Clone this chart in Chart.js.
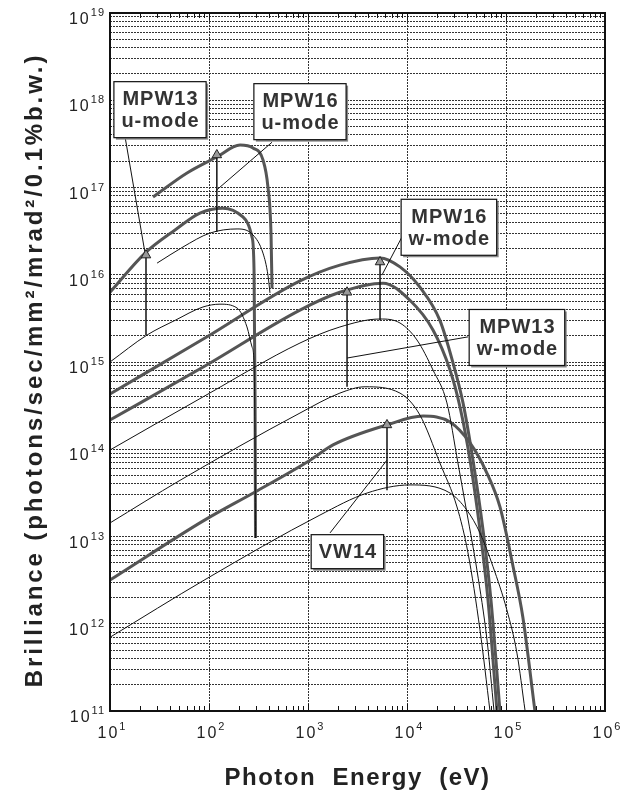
<!DOCTYPE html>
<html>
<head>
<meta charset="utf-8">
<script src="https://cdn.jsdelivr.net/npm/chart.js@4.4.1/dist/chart.umd.min.js"></script>
<style>
  html, body { margin: 0; padding: 0; background: #fff; }
  #wrap { width: 633px; height: 796px; }
</style>
</head>
<body>
<div id="wrap"><canvas id="chart" width="633" height="796"></canvas></div>
<script>
// photon energy (eV) / brilliance pairs

// MPW13 u-mode
const mpw13uThinE = [10, 23.7, 45.4, 86.9, 129, 192, 242, 272, 285, 292, 295];
const mpw13uThinB = [1.0e15, 2.04e15, 3.0e15, 4.27e15, 4.6e15, 4.16e15, 2.52e15, 1.49e15, 9.7e14, 9.8e13, 9.6e12];
const mpw13uThickE = [10, 22.6, 45.4, 81, 138, 220, 272, 285, 292, 295];
const mpw13uThickB = [6.3e15, 1.77e16, 3.26e16, 5.1e16, 5.8e16, 4.6e16, 2.7e16, 1.13e16, 3.7e14, 9.6e12];

// MPW16 u-mode
const mpw16uThinE = [29.9, 54.6, 102, 192, 278, 351, 394, 413];
const mpw16uThinB = [1.36e16, 2.08e16, 3.0e16, 3.35e16, 2.86e16, 1.77e16, 9.9e15, 6.2e15];
const mpw16uThickE = [27.2, 60, 120, 206, 278, 351, 394, 423, 433];
const mpw16uThickB = [7.8e16, 1.47e17, 2.24e17, 3.07e17, 2.84e17, 2.07e17, 1.01e17, 3.0e16, 7.0e15];

// MPW16 w-mode
const mpw16wThinE = [10, 91, 830, 2100, 5340, 8490, 12600, 18300, 25300, 32700, 40300, 50900, 64300, 75700];
const mpw16wThinB = [9.8e13, 4.1e14, 1.65e15, 2.52e15, 3.11e15, 2.8e15, 1.79e15, 8.1e14, 3.4e14, 6.95e13, 1.86e13, 4.1e12, 6.5e11, 1e11];
const mpw16wThickE = [10, 91, 830, 2100, 5340, 8490, 13500, 21500, 29200, 36800, 46400, 58600, 70500, 86900];
const mpw16wThickB = [4.3e14, 1.88e15, 8.5e15, 1.29e16, 1.56e16, 1.23e16, 7.2e15, 3.0e15, 9.7e14, 3.4e14, 7.5e13, 1.19e13, 1.87e12, 1e11];

// MPW13 w-mode
const mpw13wThinE = [10, 50.9, 830, 2100, 3770, 8490, 13500, 21500, 32000, 41300, 54600, 68900];
const mpw13wThinB = [1.43e13, 4.4e13, 2.6e14, 4.4e14, 5.2e14, 4.4e14, 2.47e14, 6.95e13, 2.18e13, 6.5e12, 8.5e11, 1e11];
const mpw13wThickE = [10, 91, 830, 2100, 5730, 10700, 18300, 27200, 34300, 43300, 54600, 65800, 81100];
const mpw13wThickB = [2.16e14, 9.0e14, 3.94e15, 6.3e15, 8.0e15, 5.1e15, 2.33e15, 8.1e14, 3.05e14, 7.5e13, 1.19e13, 1.87e12, 1e11];

// VW14
const vw14ThinE = [10, 91, 1320, 3950, 10700, 27200, 40300, 54600, 74000, 102000, 129000, 156000];
const vw14ThinB = [7.0e11, 3.2e12, 1.76e13, 3.15e13, 3.9e13, 3.15e13, 2.0e13, 1.1e13, 4.5e12, 1.44e12, 4.6e11, 1e11];
const vw14ThickE = [10, 91, 292, 1050, 1790, 6280, 14500, 27200, 43300, 64300, 86900, 118000, 148000, 196000];
const vw14ThickB = [3.17e12, 1.55e13, 3.24e13, 7.5e13, 1.12e14, 1.9e14, 2.4e14, 2.05e14, 1.18e14, 5.3e13, 2.18e13, 4.5e12, 1.19e12, 1e11];

// arrows from the thin curve up to the thick one
const arrowE = [23.1, 120, 5340, 2480, 6280];
const arrowFromB = [2.04e15, 3.1e16, 3.0e15, 5.2e14, 3.4e13];
const arrowToB = [1.68e16, 2.36e17, 1.4e16, 6.3e15, 1.9e14];

// labels and their leader lines
const labelText = [["MPW13", "u-mode"], ["MPW16", "u-mode"], ["MPW16", "w-mode"], ["MPW13", "w-mode"], ["VW14"]];
const labelE = [32, 830, 26500, 129000, 2500];
const labelB = [7.8e17, 7.4e17, 3.5e16, 1.91e15, 6.7e12];
const leaderFromE = [14.2, 433, 9120, 41300, 1670];
const leaderFromB = [3.8e17, 3.3e17, 2.86e16, 1.94e15, 1.1e13];
const leaderToE = [22.6, 120, 5580, 2480, 6280];
const leaderToB = [1.77e16, 9.4e16, 9.9e15, 1.11e15, 7.5e13];

// axes
const xDecades = [1, 2, 3, 4, 5, 6];
const yDecades = [11, 12, 13, 14, 15, 16, 17, 18, 19];
const xTitle = "Photon  Energy  (eV)";
const yTitle = "Brilliance (photons/sec/mm²/mrad²/0.1%b.w.)";

const FONT = '"Liberation Sans", Arial, Helvetica, sans-serif';

const minorTicks = (decades) => {
  const out = [];
  decades.forEach((d, i) => {
    if (i === decades.length - 1) { out.push(Math.pow(10, d)); return; }
    for (let m = 1; m <= 9; m++) out.push(m * Math.pow(10, d));
  });
  return out;
};
const xTickValues = minorTicks(xDecades);
const yTickValues = minorTicks(yDecades);
const isDecade = (v) => Math.abs(Math.log10(v) - Math.round(Math.log10(v))) < 1e-6;

const toPoints = (E, B) => E.map((e, i) => ({ x: e, y: B[i] }));

const curve = (E, B, thick) => ({
  data: toPoints(E, B),
  borderColor: thick ? "#555" : "#111",
  borderWidth: thick ? 3 : 1,
  pointRadius: 0,
  cubicInterpolationMode: "monotone",
  fill: false,
});

const arrows = arrowE.map((e, i) => ({
  data: [{ x: e, y: arrowFromB[i] }, { x: e, y: arrowToB[i] }],
  borderColor: "#111",
  borderWidth: 1.5,
  tension: 0,
  pointRadius: [0, 5.5],
  pointStyle: "triangle",
  pointBackgroundColor: "#999",
  pointBorderColor: "#222",
  pointBorderWidth: 1,
}));

const leaders = leaderFromE.map((e, i) => ({
  data: [{ x: e, y: leaderFromB[i] }, { x: leaderToE[i], y: leaderToB[i] }],
  borderColor: "#111",
  borderWidth: 1,
  tension: 0,
  pointRadius: 0,
}));

const datasets = [
  ...arrows,
  ...leaders,
  curve(mpw13uThinE, mpw13uThinB, false),
  curve(mpw16uThinE, mpw16uThinB, false),
  curve(mpw16wThinE, mpw16wThinB, false),
  curve(mpw13wThinE, mpw13wThinB, false),
  curve(vw14ThinE, vw14ThinB, false),
  curve(mpw13uThickE, mpw13uThickB, true),
  curve(mpw16uThickE, mpw16uThickB, true),
  curve(mpw16wThickE, mpw16wThickB, true),
  curve(mpw13wThickE, mpw13wThickB, true),
  curve(vw14ThickE, vw14ThickB, true),
];

// "10" with a raised exponent
const drawPower = (ctx, exp, px, py, align) => {
  ctx.font = "16px " + FONT;
  ctx.letterSpacing = "2px";
  const bw = ctx.measureText("10").width;
  ctx.font = "11px " + FONT;
  ctx.letterSpacing = "1px";
  const ew = ctx.measureText(String(exp)).width;
  const total = bw + ew;
  const left = align === "right" ? px - total : px - total / 2;
  ctx.textAlign = "left";
  ctx.textBaseline = "alphabetic";
  ctx.font = "16px " + FONT;
  ctx.letterSpacing = "2px";
  ctx.fillText("10", left, py);
  ctx.font = "11px " + FONT;
  ctx.letterSpacing = "1px";
  ctx.fillText(String(exp), left + bw, py - 8);
};

const overlay = {
  id: "overlay",
  afterDatasetsDraw(chart) {
    const { ctx, scales: { x, y } } = chart;
    ctx.save();
    ctx.font = "bold 20px " + FONT;
    ctx.letterSpacing = "1px";
    labelText.forEach((lines, i) => {
      const cx = x.getPixelForValue(labelE[i]);
      const cy = y.getPixelForValue(labelB[i]);
      const w = Math.max(...lines.map((t) => ctx.measureText(t).width)) + 14;
      const h = lines.length * 22 + 12;
      const l = cx - w / 2, t = cy - h / 2;
      ctx.fillStyle = "#888";
      ctx.fillRect(l + 2, t + 2, w, h);
      ctx.fillStyle = "#fff";
      ctx.fillRect(l, t, w, h);
      ctx.strokeStyle = "#111";
      ctx.lineWidth = 1.2;
      ctx.strokeRect(l, t, w, h);
      ctx.fillStyle = "#333";
      ctx.textAlign = "center";
      ctx.textBaseline = "middle";
      lines.forEach((txt, k) => {
        ctx.fillText(txt, cx + 0.5, t + 6 + 11 + k * 22 + 1);
      });
    });
    ctx.restore();
  },
  afterDraw(chart) {
    const { ctx, chartArea: a, scales: { x, y } } = chart;
    ctx.save();
    // small inside ticks on top and bottom edges
    ctx.strokeStyle = "#111";
    ctx.lineWidth = 1;
    xTickValues.forEach((v) => {
      const px = Math.round(x.getPixelForValue(v)) + 0.5;
      const len = isDecade(v) ? 7 : 5;
      ctx.beginPath();
      ctx.moveTo(px, a.bottom);
      ctx.lineTo(px, a.bottom - len);
      ctx.moveTo(px, a.top);
      ctx.lineTo(px, a.top + len);
      ctx.stroke();
    });
    // frame
    ctx.lineWidth = 2;
    ctx.strokeRect(a.left, a.top, a.width, a.height);

    // tick labels
    ctx.fillStyle = "#222";
    xDecades.forEach((d) => {
      drawPower(ctx, d, x.getPixelForValue(Math.pow(10, d)) + 2, a.bottom + 27, "center");
    });
    yDecades.forEach((d) => {
      drawPower(ctx, d, a.left - 5, y.getPixelForValue(Math.pow(10, d)) + 11, "right");
    });

    // axis titles
    ctx.fillStyle = "#222";
    ctx.font = "bold 24px " + FONT;
    ctx.letterSpacing = "1.5px";
    ctx.textAlign = "center";
    ctx.textBaseline = "middle";
    ctx.fillText(xTitle, (a.left + a.right) / 2, 778);

    ctx.translate(35, 370);
    ctx.rotate(-Math.PI / 2);
    ctx.letterSpacing = "2.9px";
    ctx.fillText(yTitle, 0, 0);
    ctx.restore();
  },
};

const gridColor = "#333";

new Chart(document.getElementById("chart"), {
  type: "line",
  data: { datasets },
  plugins: [overlay],
  options: {
    responsive: false,
    animation: false,
    layout: { padding: { left: 110, top: 13, right: 28, bottom: 85 } },
    plugins: {
      legend: { display: false },
      tooltip: { enabled: false },
    },
    scales: {
      x: {
        type: "logarithmic",
        min: 10,
        max: 1e6,
        afterBuildTicks: (scale) => { scale.ticks = xTickValues.map((v) => ({ value: v })); },
        ticks: { display: false },
        grid: {
          drawTicks: false,
          lineWidth: 1,
          color: (c) => (c.tick && isDecade(c.tick.value) ? gridColor : "rgba(0,0,0,0)"),
        },
        border: { display: false, dash: [2, 1] },
      },
      y: {
        type: "logarithmic",
        min: 1e11,
        max: 1e19,
        afterBuildTicks: (scale) => { scale.ticks = yTickValues.map((v) => ({ value: v })); },
        ticks: { display: false },
        grid: { drawTicks: false, lineWidth: 1, color: gridColor },
        border: { display: false, dash: [2, 1] },
      },
    },
  },
});
</script>
</body>
</html>
